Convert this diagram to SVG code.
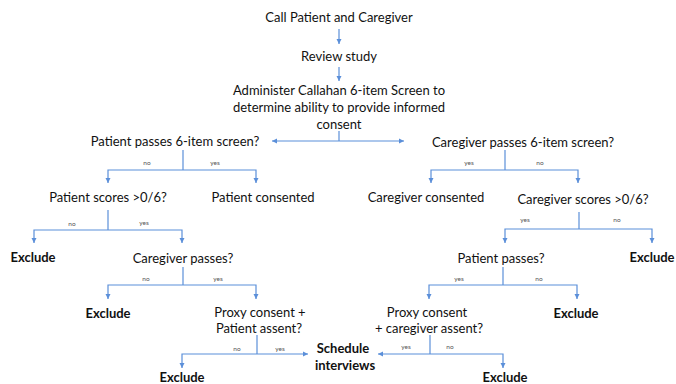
<svg xmlns="http://www.w3.org/2000/svg" width="676" height="384" viewBox="0 0 676 384">
<style>
.t{font-family:Lato,"Liberation Sans",sans-serif;font-size:13px;fill:#111;text-anchor:middle}
.b{font-weight:bold}
.s{font-family:Lato,"Liberation Sans",sans-serif;font-size:6.5px;fill:#555;text-anchor:middle}
.c{fill:none;stroke:#5b8fd9;stroke-width:1.2}
.a{marker-end:url(#ah)}
</style>
<defs>
<marker id="ah" markerUnits="userSpaceOnUse" markerWidth="6" markerHeight="6" refX="5" refY="3" orient="auto">
<path d="M0,0.5 L5,3 L0,5.5 Z" fill="#5b8fd9"/>
</marker>
</defs>
<rect width="676" height="384" fill="#fff"/>
<g id="connectors">
<path class="c a" d="M339,29 V44"/>
<path class="c a" d="M339,67 V81"/>
<path class="c" d="M339,131 V141"/>
<path class="c a" d="M339,141 H272"/>
<path class="c a" d="M339,141 H404"/>
<path class="c" d="M183,150 V170"/>
<path class="c a" d="M183,170 H108 V183"/>
<path class="c a" d="M183,170 H256 V183"/>
<path class="c" d="M505,150 V170"/>
<path class="c a" d="M505,170 H431 V183"/>
<path class="c a" d="M505,170 H578 V183"/>
<path class="c" d="M108,210 V230"/>
<path class="c a" d="M108,230 H34 V243"/>
<path class="c a" d="M108,230 H182 V243"/>
<path class="c" d="M579,212 V229"/>
<path class="c a" d="M579,229 H505 V243"/>
<path class="c a" d="M579,229 H652 V243"/>
<path class="c" d="M183,267 V285"/>
<path class="c a" d="M183,285 H108 V299"/>
<path class="c a" d="M183,285 H256 V299"/>
<path class="c" d="M503,267 V285"/>
<path class="c a" d="M503,285 H429 V299"/>
<path class="c a" d="M503,285 H577 V299"/>
<path class="c" d="M257,335 V354"/>
<path class="c a" d="M257,354 H182 V368"/>
<path class="c a" d="M257,354 H308"/>
<path class="c" d="M430,335 V354"/>
<path class="c a" d="M430,354 H378"/>
<path class="c a" d="M430,354 H503 V368"/>
<text class="s" x="147" y="165">no</text>
<text class="s" x="215" y="165">yes</text>
<text class="s" x="469" y="165">yes</text>
<text class="s" x="540" y="165">no</text>
<text class="s" x="72" y="226">no</text>
<text class="s" x="144" y="225">yes</text>
<text class="s" x="525" y="222">yes</text>
<text class="s" x="617" y="222">no</text>
<text class="s" x="146" y="281">no</text>
<text class="s" x="218" y="281">yes</text>
<text class="s" x="459" y="281">yes</text>
<text class="s" x="539" y="281">no</text>
<text class="s" x="237" y="351">no</text>
<text class="s" x="280" y="351">yes</text>
<text class="s" x="406" y="349">yes</text>
<text class="s" x="450" y="349">no</text>
</g>
<g id="n1"><text class="t" x="339" y="22">Call Patient and Caregiver</text></g>
<g id="n2"><text class="t" x="339" y="61">Review study</text></g>
<g id="n3"><text class="t" x="339" y="95">Administer Callahan 6-item Screen to</text><text class="t" x="339" y="112">determine ability to provide informed</text><text class="t" x="339" y="129">consent</text></g>
<g id="n4"><text class="t" x="175" y="146">Patient passes 6-item screen?</text></g>
<g id="n5"><text class="t" x="523" y="147">Caregiver passes 6-item screen?</text></g>
<g id="n6"><text class="t" x="108" y="202">Patient scores &gt;0/6?</text></g>
<g id="n7"><text class="t" x="263" y="202">Patient consented</text></g>
<g id="n8"><text class="t" x="426" y="202">Caregiver consented</text></g>
<g id="n9"><text class="t" x="583" y="204">Caregiver scores &gt;0/6?</text></g>
<g id="n10"><text class="t b" x="33" y="262">Exclude</text></g>
<g id="n11"><text class="t" x="183" y="263">Caregiver passes?</text></g>
<g id="n12"><text class="t" x="501" y="263">Patient passes?</text></g>
<g id="n13"><text class="t b" x="652" y="262">Exclude</text></g>
<g id="n14"><text class="t b" x="108" y="318">Exclude</text></g>
<g id="n15"><text class="t" x="260" y="317">Proxy consent +</text><text class="t" x="259" y="333">Patient assent?</text></g>
<g id="n16"><text class="t" x="427" y="317">Proxy consent</text><text class="t" x="429" y="333">+ caregiver assent?</text></g>
<g id="n17"><text class="t b" x="576" y="318">Exclude</text></g>
<g id="n18"><text class="t b" x="343" y="353">Schedule</text><text class="t b" x="345" y="370">interviews</text></g>
<g id="n19"><text class="t b" x="182" y="382">Exclude</text></g>
<g id="n20"><text class="t b" x="505" y="382">Exclude</text></g>
</svg>
